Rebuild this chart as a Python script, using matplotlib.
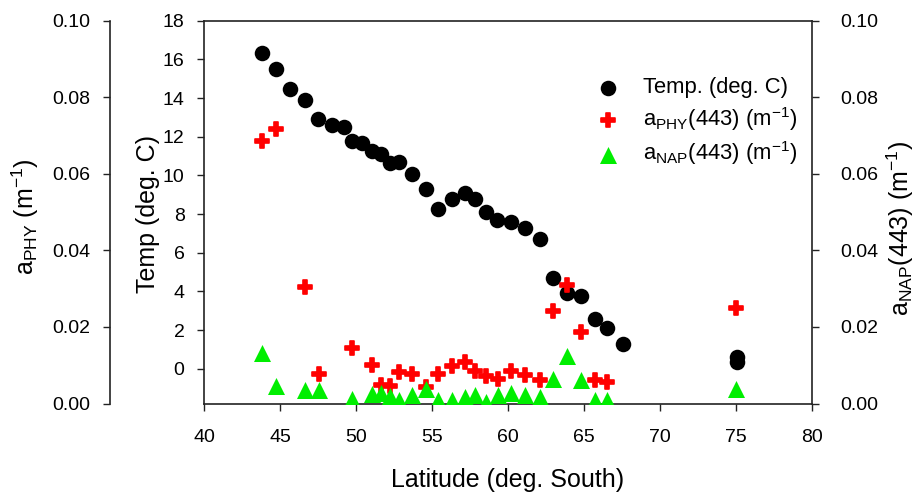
import matplotlib
matplotlib.use("Agg")
import matplotlib.pyplot as plt

plt.rcParams['font.family'] = ['Liberation Sans', 'DejaVu Sans']
plt.rcParams['mathtext.fontset'] = 'custom'
plt.rcParams['mathtext.rm'] = 'Liberation Sans'
plt.rcParams['mathtext.it'] = 'Liberation Sans:italic'
plt.rcParams['mathtext.bf'] = 'Liberation Sans:bold'

# ---- data ----
temp_lat = [43.84, 44.74, 45.68, 46.62, 47.52, 48.44, 49.19, 49.76, 50.42, 51.03,
            51.64, 52.24, 52.85, 53.68, 54.63, 55.42, 56.30, 57.19, 57.81, 58.53,
            59.30, 60.20, 61.12, 62.10, 62.98, 63.88, 64.80, 65.72, 66.53, 67.59,
            75.05, 75.05]
temp_val = [16.32, 15.49, 14.49, 13.90, 12.92, 12.61, 12.49, 11.76, 11.66, 11.28,
            11.11, 10.66, 10.68, 10.07, 9.28, 8.28, 8.78, 9.10, 8.78, 8.09,
            7.69, 7.57, 7.26, 6.71, 4.68, 3.90, 3.78, 2.59, 2.11, 1.28,
            0.62, 0.36]

abs_lat = [43.82, 44.75, 46.62, 47.55, 49.76, 51.03, 51.62, 52.24, 52.85, 53.70,
           54.60, 55.37, 56.30, 57.19, 57.81, 58.53, 59.34, 60.18, 61.12, 62.10,
           62.98, 63.90, 64.80, 65.72, 66.53, 75.02]
aphy = [0.0685, 0.0717, 0.0304, 0.0076, 0.0145, 0.0100, 0.0048, 0.0045, 0.0083, 0.0078,
        0.0044, 0.0077, 0.0099, 0.0109, 0.0085, 0.0071, 0.0064, 0.0086, 0.0074, 0.0061,
        0.0242, 0.0310, 0.0186, 0.0061, 0.0057, 0.0249]
anap = [0.0132, 0.0045, 0.0035, 0.0035, 0.0013, 0.0025, 0.0028, 0.0019, 0.0010, 0.0021,
        0.0038, 0.0010, 0.0010, 0.0017, 0.0021, 0.0004, 0.0023, 0.0028, 0.0021, 0.0017,
        0.0064, 0.0123, 0.0061, 0.0010, 0.0010, 0.0037]

x_ticks = [40, 45, 50, 55, 60, 65, 70, 75, 80]
temp_ticks = [0, 2, 4, 6, 8, 10, 12, 14, 16, 18]
abs_ticks = [0.00, 0.02, 0.04, 0.06, 0.08, 0.10]

W, H = 915, 493
fig = plt.figure(figsize=(W / 100, H / 100), dpi=100)
L, R, B, T = 204, 812, 403.5, 20.7
ax = fig.add_axes([L / W, 1 - B / H, (R - L) / W, (B - T) / H])

spine_c = '#222222'
tick_kw = dict(direction='out', length=5, width=1.0, labelsize=14, colors=spine_c, labelcolor='black')

# Temperature (main axis)
h1 = ax.scatter(temp_lat, temp_val, s=125, c='black', marker='o', linewidths=0, zorder=3,
                label='Temp. (deg. C)')
ax.set_xlim(40, 80)
ax.set_ylim(-1.8, 18)
ax.set_xticks(x_ticks)
ax.set_yticks(temp_ticks)
ax.tick_params(axis='x', pad=13, **tick_kw)
ax.tick_params(axis='y', pad=9, **tick_kw)
for s in ['left', 'bottom', 'top']:
    ax.spines[s].set_color(spine_c)
    ax.spines[s].set_linewidth(1.2)
ax.spines['right'].set_visible(False)

# aPHY (outer left axis)
ax2 = ax.twinx()
h2 = ax2.scatter(abs_lat, aphy, s=95, c='#ff0000', marker='P', edgecolors='#ff0000',
                 linewidths=1.2, zorder=3,
                 label=r'a$_{\mathrm{PHY}}$(443) (m$^{\mathrm{-1}}$)')
ax2.set_ylim(0, 0.10)
ax2.set_yticks(abs_ticks)
ax2.set_yticklabels(['%.2f' % v for v in abs_ticks])
ax2.yaxis.set_ticks_position('left')
ax2.yaxis.set_label_position('left')
ax2.spines['left'].set_position(('axes', -(L - 110) / (R - L)))
for s in ['right', 'top', 'bottom']:
    ax2.spines[s].set_visible(False)
ax2.spines['left'].set_color(spine_c)
ax2.spines['left'].set_linewidth(1.2)
ax2.tick_params(axis='y', pad=9, **tick_kw)

# aNAP (right axis)
ax3 = ax.twinx()
h3 = ax3.scatter(abs_lat, anap, s=150, c='#00ee00', marker='^', linewidths=0, zorder=3,
                 label=r'a$_{\mathrm{NAP}}$(443) (m$^{\mathrm{-1}}$)')
ax3.set_ylim(0, 0.10)
ax3.set_yticks(abs_ticks)
ax3.set_yticklabels(['%.2f' % v for v in abs_ticks])
for s in ['left', 'top', 'bottom']:
    ax3.spines[s].set_visible(False)
ax3.spines['right'].set_color(spine_c)
ax3.spines['right'].set_linewidth(1.2)
ax3.tick_params(axis='y', pad=15, **tick_kw)

# Labels
fig.text(25 / W, 1 - 217 / H, r'a$_{\mathrm{PHY}}$ (m$^{\mathrm{-1}}$)', rotation=90,
         ha='center', va='center', fontsize=18)
fig.text(148 / W, 1 - 214 / H, 'Temp (deg. C)', rotation=90, ha='center', va='center', fontsize=18)
fig.text(900 / W, 1 - 228 / H, r'a$_{\mathrm{NAP}}$(443) (m$^{\mathrm{-1}}$)', rotation=90,
         ha='center', va='center', fontsize=18)
fig.text(508 / W, 1 - 480 / H, 'Latitude (deg. South)', ha='center', va='center', fontsize=18)

leg = ax3.legend(handles=[h1, h2, h3], loc='upper right', bbox_to_anchor=(0.99, 0.875),
                 frameon=False, fontsize=15.8, handletextpad=0.6, labelspacing=0.3,
                 borderaxespad=0, scatterpoints=1)

fig.savefig('out.png', dpi=100)
